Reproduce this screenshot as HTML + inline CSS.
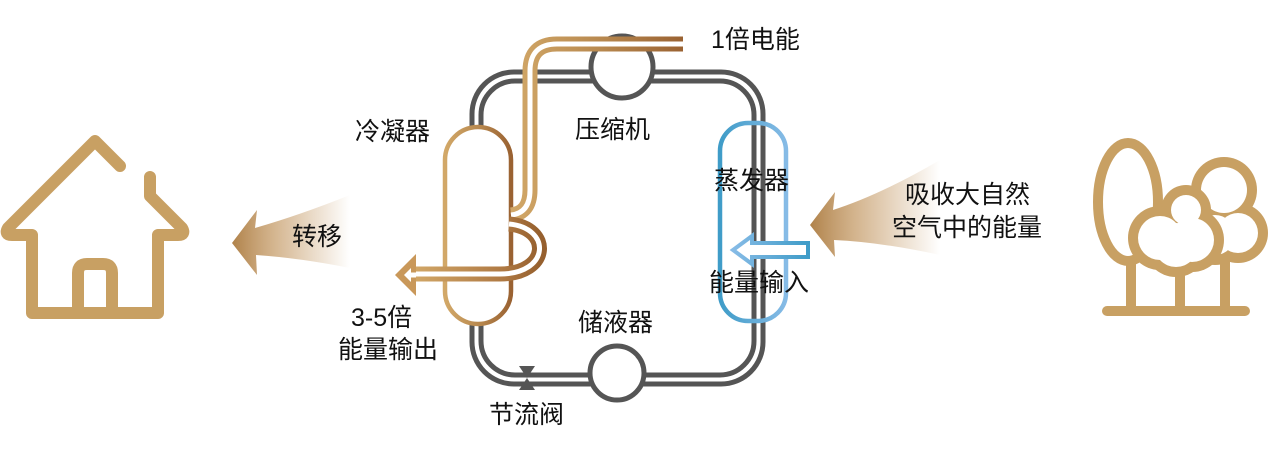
<!DOCTYPE html>
<html><head><meta charset="utf-8"><style>
html,body{margin:0;padding:0;background:#fff;}
svg{display:block;}
text{font-family:"Liberation Sans","Noto Sans CJK SC",sans-serif;font-size:25px;fill:#111;}
</style></head><body>
<svg width="1269" height="455" viewBox="0 0 1269 455" xmlns="http://www.w3.org/2000/svg">
<defs>
<linearGradient id="cu" x1="0" y1="0" x2="1" y2="0">
<stop offset="0" stop-color="#d2a868"/><stop offset="0.5" stop-color="#b98a50"/><stop offset="1" stop-color="#9a6232"/></linearGradient>
<linearGradient id="cu2" x1="0" y1="0" x2="1" y2="0">
<stop offset="0" stop-color="#d2a868"/><stop offset="0.7" stop-color="#b07a44"/><stop offset="1" stop-color="#96602e"/></linearGradient>
<linearGradient id="bl" x1="0" y1="0" x2="1" y2="0">
<stop offset="0" stop-color="#3f9cc8"/><stop offset="1" stop-color="#86bbe6"/></linearGradient>
<linearGradient id="bl2" x1="0" y1="0" x2="1" y2="0">
<stop offset="0" stop-color="#86bbe6"/><stop offset="1" stop-color="#3f9cc8"/></linearGradient>
<linearGradient id="fadeL" x1="0" y1="0" x2="1" y2="0">
<stop offset="0" stop-color="#b0824a"/><stop offset="0.35" stop-color="#c9a272" stop-opacity="0.8"/><stop offset="1" stop-color="#c9a272" stop-opacity="0"/></linearGradient>
</defs>

<g fill="none" stroke="#555" stroke-width="5">
<rect x="472" y="72" width="291" height="312" rx="42"/>
<rect x="481" y="81" width="273" height="294" rx="34"/>
</g>
<polygon points="519,366 535,366 527,378" fill="#555"/>
<polygon points="519,390 535,390 527,378" fill="#555"/>
<circle cx="622" cy="67" r="31" fill="#fff" stroke="#555" stroke-width="5"/>
<circle cx="617" cy="373" r="27" fill="#fff" stroke="#555" stroke-width="5"/>

<rect x="445" y="127" width="66" height="197" rx="33" fill="#fff" stroke="url(#cu)" stroke-width="4.5"/>
<rect x="720" y="123" width="66" height="198" rx="28" fill="none" stroke="url(#bl)" stroke-width="4.5"/>

<g fill="none" stroke-linejoin="round">
<path d="M683,44 H557 Q530,44 530,71 V190 Q530,213 511,215" stroke="url(#cu)" stroke-width="15"/>
<path d="M683,44 H557 Q530,44 530,71 V190 Q530,213 511,215" stroke="#fff" stroke-width="5"/>
<path d="M509,224 C552,228 550,274 500,274 H412" stroke="url(#cu2)" stroke-width="15"/>
<path d="M509,224 C552,228 550,274 500,274 H412" stroke="#fff" stroke-width="5"/>
</g>
<polygon points="395,275 416,254 416,296" fill="#c9985a"/>
<polygon points="404,275 411,268 411,282" fill="#fff"/>
<rect x="410" y="272.5" width="6" height="5" fill="#fff"/>

<path d="M808,243 H752 V236 L733,250 L752,264 V257 H808 Z" fill="#fff" stroke="url(#bl2)" stroke-width="4"/>

<path d="M232,243 L257,210 L255,228 Q300,215 350,195 L350,268 Q300,258 256,255 L257,275 Z" fill="url(#fadeL)"/>
<path d="M810,225 L835,192 L833,210 Q880,195 940,160 L940,255 Q880,242 834,240 L835,257 Z" fill="url(#fadeL)"/>

<g fill="none" stroke="#c8a063" stroke-width="12" stroke-linecap="round" stroke-linejoin="round">
<path d="M120,166 L95,141 L8,228 Q4,235 12,235 H32 V313 H158 V235 H178 Q186,235 182,228 L150,196 V177"/>
<path d="M78,313 V273 Q78,264 87,264 H103 Q112,264 112,273 V313"/>
</g>

<g stroke="#c8a063" stroke-width="10" stroke-linecap="round">
<line x1="1107" y1="311" x2="1245" y2="311"/>
<line x1="1131" y1="250" x2="1131" y2="311"/>
<line x1="1180" y1="260" x2="1180" y2="311"/>
<line x1="1225" y1="250" x2="1225" y2="311"/>
</g>
<ellipse cx="1128" cy="202" rx="30" ry="59" fill="#fff" stroke="#c8a063" stroke-width="10"/>
<g fill="#c8a063">
<circle cx="1224" cy="190" r="33"/><circle cx="1238" cy="233" r="30"/><circle cx="1215" cy="235" r="30"/>
</g>
<g fill="#fff">
<circle cx="1224" cy="190" r="23"/><circle cx="1238" cy="233" r="20"/><circle cx="1215" cy="235" r="20"/>
</g>
<g fill="#c8a063">
<circle cx="1186" cy="210" r="25"/><circle cx="1160" cy="238" r="32"/><circle cx="1192" cy="240" r="32"/><circle cx="1176" cy="245" r="32"/>
</g>
<g fill="#fff">
<circle cx="1186" cy="210" r="15"/><circle cx="1160" cy="238" r="22"/><circle cx="1192" cy="240" r="22"/><circle cx="1176" cy="245" r="22"/>
</g>

<text x="711" y="48">1倍电能</text>
<text x="355" y="140">冷凝器</text>
<text x="575" y="138">压缩机</text>
<text x="714" y="189">蒸发器</text>
<text x="709" y="291">能量输入</text>
<text x="578" y="331">储液器</text>
<text x="489" y="423">节流阀</text>
<text x="351" y="326">3-5倍</text>
<text x="338" y="358">能量输出</text>
<text x="292" y="245">转移</text>
<text x="905" y="203">吸收大自然</text>
<text x="892" y="236">空气中的能量</text>
</svg>
</body></html>
